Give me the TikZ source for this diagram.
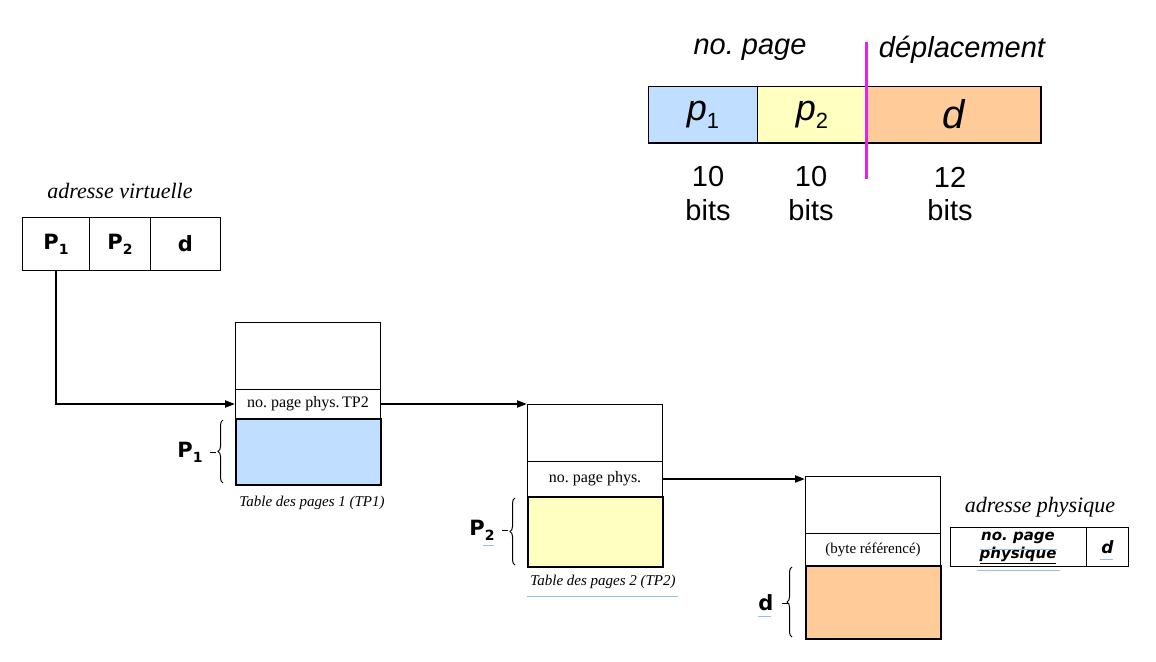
\documentclass[tikz,border=0pt]{standalone}
\usepackage{fontspec}
\setmainfont{Liberation Serif}
\setsansfont{Liberation Sans}
\newfontfamily\verd{DejaVu Sans}
\usetikzlibrary{decorations.pathreplacing,arrows.meta}
\definecolor{cblue}{RGB}{192,222,255}
\definecolor{cyellow}{RGB}{255,255,192}
\definecolor{corange}{RGB}{255,204,153}
\definecolor{cmag}{RGB}{235,30,235}
\definecolor{spell}{RGB}{150,190,225}
\newcommand{\fs}[1]{\fontsize{#1}{#1}\selectfont}
\frenchspacing
\begin{document}
\begin{tikzpicture}[x=1pt,y=-1pt,
  cell/.style={draw, line width=1pt, inner sep=0pt, anchor=north west},
  fcell/.style={draw, line width=2pt, inner sep=0pt, anchor=north west},
  arr/.style={line width=2pt, -{Triangle[length=10pt,width=7pt]}},
  brc/.style={line width=1pt, decorate, decoration={brace, amplitude=5pt}},
  lbl/.style={font=\fs{22}\itshape, inner sep=0pt},
  captxt/.style={font=\fs{15}\itshape, inner sep=0pt},
  rowtxt/.style={font=\fs{16}},
  bsans/.style={font=\verd\bfseries\fs{21}, inner sep=0pt},
  toptxt/.style={font=\sffamily\fs{29}\itshape, inner sep=0pt},
  bits/.style={font=\sffamily\fs{29}, align=center, inner sep=0pt},
  spl/.style={spell, line width=1pt}]
\useasboundingbox (0,0) rectangle (1156,661);

% ---- top bit layout ----
\node[cell, fill=cblue, minimum width=109pt, minimum height=56pt] (b1) at (648,86)
  {\sffamily\fs{36}\itshape p\raisebox{-8pt}{\upshape\fs{22}1}};
\node[cell, fill=cyellow, minimum width=109pt, minimum height=56pt] (b2) at (757,86)
  {\sffamily\fs{36}\itshape p\raisebox{-8pt}{\upshape\fs{22}2}};
\node[cell, fill=corange, minimum width=174pt, minimum height=56pt] (b3) at (866,86)
  {\sffamily\fs{40}\itshape d};
\draw[line width=1pt] (b1.north west) rectangle (b3.south east);
\coordinate (m1) at (866,42);
\coordinate (m2) at (866,179);
\draw[cmag, line width=3pt] (m1) -- (m2);
\node[toptxt] (np) at (750,50) {no. page};
\node[toptxt] (dep) at (962,50) {déplacement};
\node[bits] (t1) at (708,177) {10};
\node[bits] (t1b) at (708,210) {bits};
\node[bits] (t2) at (811,177) {10};
\node[bits] (t2b) at (811,210) {bits};
\node[bits] (t3) at (950,177) {12};
\node[bits] (t3b) at (950,210) {bits};

% ---- virtual address ----
\node[lbl] (avl) at (120,191) {adresse virtuelle};
\node[cell, minimum width=67pt, minimum height=53pt] (va1) at (22,217)
  {\verd\bfseries\fs{21}P\raisebox{-5pt}{\fs{14}1}};
\node[cell, minimum width=61pt, minimum height=53pt] (va2) at (89,217)
  {\verd\bfseries\fs{21}P\raisebox{-5pt}{\fs{14}2}};
\node[cell, minimum width=70pt, minimum height=53pt] (va3) at (150,217)
  {\verd\bfseries\fs{21}d};

% ---- TP1 ----
\node[cell, minimum width=145pt, minimum height=67pt] (tp1top) at (235,322) {};
\node[cell, minimum width=145pt, minimum height=29pt, rowtxt] (tp1row) at (235,389) {no. page phys.\,TP2};
\node[fcell, fill=cblue, minimum width=145pt, minimum height=66pt] (tp1box) at (235,418) {};
\node[captxt] (tp1cap) at (312,503) {Table des pages 1 (TP1)};
\coordinate (br1a) at (223,483);
\coordinate (br1b) at (223,420);
\draw[brc] (br1a) -- (br1b);
\node[bsans] (lp1) at (190,452) {P\raisebox{-5pt}{\fs{14}1}};
\draw[line width=1pt] (lp1.east) ++(7,0) -- ++(6,0);

% ---- TP2 ----
\node[cell, minimum width=135pt, minimum height=57pt] (tp2top) at (527,404) {};
\node[cell, minimum width=135pt, minimum height=35pt, rowtxt] (tp2row) at (527,461) {no. page phys.};
\node[fcell, fill=cyellow, minimum width=135pt, minimum height=70pt] (tp2box) at (527,496) {};
\node[captxt] (tp2cap) at (603,582) {Table des pages 2 (TP2)};
\draw[spl] (tp2cap.south west) ++(-3,7) -- ++(151,0);
\coordinate (br2a) at (515,565);
\coordinate (br2b) at (515,498);
\draw[brc] (br2a) -- (br2b);
\node[bsans] (lp2) at (482,530) {P\raisebox{-5pt}{\fs{14}2}};
\draw[line width=1pt] (lp2.east) ++(7,0) -- ++(6,0);
\draw[spl] (lp2.south east) ++(-12,5) -- ++(11,0);

% ---- TP3 ----
\node[cell, minimum width=135pt, minimum height=57pt] (tp3top) at (805,476) {};
\node[cell, minimum width=135pt, minimum height=32pt, font=\fs{15}] (tp3row) at (805,533) {(byte référencé)};
\node[fcell, fill=corange, minimum width=135pt, minimum height=73pt] (tp3box) at (805,565) {};
\coordinate (br3a) at (792,637);
\coordinate (br3b) at (792,567);
\draw[brc] (br3a) -- (br3b);
\node[bsans] (ld) at (766,603) {d};
\draw[line width=1pt] (ld.east) ++(8,0) -- ++(6,0);
\draw[spl] (ld.south west) ++(0,5) -- ++(13,0);

% ---- physical address ----
\node[lbl] (apl) at (1040,507) {adresse physique};
\node[cell, minimum width=136pt, minimum height=39pt] (pa1) at (950,527) {};
\node[align=center, inner sep=0pt, font=\verd\bfseries\itshape\fontsize{15}{18}\selectfont]
  (pa1t) at (1018,548) {no. page\\\underline{physique}};
\node[cell, minimum width=42pt, minimum height=39pt, font=\verd\bfseries\itshape\fs{17}] (pa2) at (1086,527) {d};
\draw[spl] (980,549) -- (1057,549);
\draw[spl] (977,570) -- (1060,570);
\draw[spl] (1100,559) -- (1113,559);

% ---- connectors ----
\draw[arr] (va1.south) |- (tp1row.west);
\draw[arr] (tp1row.east) -- (tp2top.north west);
\draw[arr] (tp2row.east) -- (tp2row.east -| tp3top.west);
\end{tikzpicture}
\end{document}
